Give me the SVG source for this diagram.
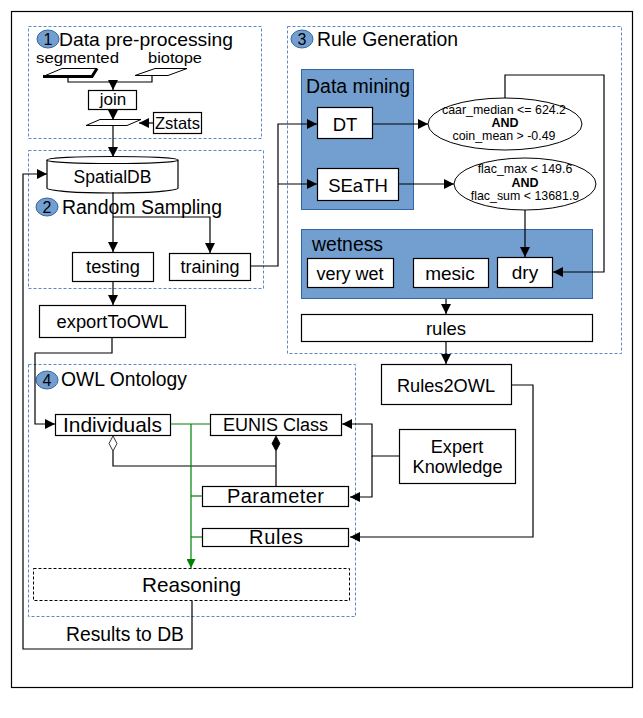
<svg xmlns="http://www.w3.org/2000/svg" width="643" height="718" viewBox="0 0 643 718">
<style>
text{font-family:"Liberation Sans",Arial,sans-serif;fill:#000}
.box{fill:#fff;stroke:#000;stroke-width:1.2}
.grp{fill:none;stroke:#5b8ac6;stroke-width:1;stroke-dasharray:3,2}
.blue{fill:#729fcf;stroke:#3465a4;stroke-width:1}
.num{fill:#729fcf;stroke:#3465a4;stroke-width:1}
.ln{fill:none;stroke:#000;stroke-width:1.2}
.gl{fill:none;stroke:#008000;stroke-width:1.2}
.c{text-anchor:middle}
</style>
<defs>
<marker id="ah" viewBox="0 0 10 10" refX="10" refY="5" markerWidth="10" markerHeight="10" markerUnits="userSpaceOnUse" orient="auto"><path d="M0,0 L10,5 L0,10 z" fill="#000"/></marker>
<marker id="ahg" viewBox="0 0 10 10" refX="10" refY="5" markerWidth="9" markerHeight="9" markerUnits="userSpaceOnUse" orient="auto"><path d="M0,0 L10,5 L0,10 z" fill="#008000"/></marker>
</defs>
<rect x="11.5" y="11.5" width="621" height="676" fill="#fff" stroke="#000" stroke-width="1.2"/>

<g id="group1">
<rect class="grp" x="28.5" y="26.5" width="233" height="112"/>
<ellipse class="num" cx="48" cy="39" rx="11" ry="9"/>
<text x="48" y="45" class="c" font-size="16">1</text>
<text x="59" y="46" font-size="19" textLength="174" lengthAdjust="spacingAndGlyphs">Data pre-processing</text>
</g>
<g id="segmented">
<text x="36" y="63" font-size="15" textLength="83" lengthAdjust="spacingAndGlyphs">segmented</text>
<path d="M62,68.5 L97,68.5 L92,76.5 L43,76.5 Z" fill="#fff" stroke="#000" stroke-width="1"/>
<path d="M43,76.5 L92,76.5 L97,68.5" fill="none" stroke="#000" stroke-width="3"/>
</g>
<g id="biotope">
<text x="148" y="63" font-size="15" textLength="54" lengthAdjust="spacingAndGlyphs">biotope</text>
<path d="M155,68.5 L187,68.5 L168,75.5 L135,75.5 Z" fill="#fff" stroke="#000" stroke-width="1"/>
</g>
<g id="join">
<rect class="box" x="88.5" y="90.5" width="48" height="19"/>
<text x="113" y="105" class="c" font-size="17">join</text>
</g>
<g id="zonal">
<path d="M100,119.5 L141,119.5 L127,125.5 L86,125.5 Z" fill="#fff" stroke="#000" stroke-width="1"/>
</g>
<g id="zstats">
<rect class="box" x="153.5" y="112.5" width="48" height="21"/>
<text x="177.5" y="128.5" class="c" font-size="16.5">Zstats</text>
</g>

<g id="group2">
<rect class="grp" x="28.5" y="150.5" width="235" height="138"/>
<ellipse class="num" cx="47" cy="207" rx="11" ry="9"/>
<text x="47" y="213" class="c" font-size="16">2</text>
<text x="62" y="214" font-size="19.5" textLength="160" lengthAdjust="spacingAndGlyphs">Random Sampling</text>
</g>
<g id="spatialdb">
<path d="M47,160 L47,188 A65.5,5 0 0 0 178,188 L178,160" fill="#fff" stroke="#000" stroke-width="1.2"/>
<ellipse cx="112.5" cy="160" rx="65.5" ry="3.5" fill="#fff" stroke="#000" stroke-width="1.2"/>
<text x="112.5" y="183" class="c" font-size="17.5">SpatialDB</text>
</g>
<g id="testing">
<rect class="box" x="72.5" y="252.5" width="81" height="29"/>
<text x="113" y="273" class="c" font-size="18.3">testing</text>
</g>
<g id="training">
<rect class="box" x="169.5" y="253.5" width="81" height="27"/>
<text x="210" y="273" class="c" font-size="18">training</text>
</g>
<g id="export">
<rect class="box" x="39.5" y="305.5" width="146" height="32"/>
<text x="112.5" y="328" class="c" font-size="18.3">exportToOWL</text>
</g>

<g id="group3">
<rect class="grp" x="287.5" y="26.5" width="334" height="327"/>
<ellipse class="num" cx="302" cy="39" rx="11" ry="9"/>
<text x="302" y="45" class="c" font-size="16">3</text>
<text x="317" y="46" font-size="19.5" textLength="141" lengthAdjust="spacingAndGlyphs">Rule Generation</text>
</g>
<g id="datamining">
<rect class="blue" x="301.5" y="69.5" width="112" height="140"/>
<text x="306" y="93" font-size="19.5" textLength="104" lengthAdjust="spacingAndGlyphs">Data mining</text>
</g>
<g id="dt">
<rect class="box" x="317.5" y="107.5" width="55" height="31"/>
<text x="345" y="131" class="c" font-size="18.5">DT</text>
</g>
<g id="seath">
<rect class="box" x="317.5" y="168.5" width="81" height="32"/>
<text x="358" y="192" class="c" font-size="18.5">SEaTH</text>
</g>
<g id="rule1">
<ellipse cx="505" cy="124" rx="77" ry="26" fill="#fff" stroke="#000" stroke-width="1"/>
<text x="504" y="114" class="c" font-size="12.4">caar_median &lt;= 624.2</text>
<text x="505" y="127" class="c" font-size="12.5" font-weight="bold" font-family="Liberation Mono,monospace">AND</text>
<text x="504" y="140" class="c" font-size="12.4">coin_mean &gt; -0.49</text>
</g>
<g id="rule2">
<ellipse cx="525" cy="184" rx="71" ry="26" fill="#fff" stroke="#000" stroke-width="1"/>
<text x="525" y="173" class="c" font-size="12.4">flac_max &lt; 149.6</text>
<text x="525" y="187" class="c" font-size="12.5" font-weight="bold" font-family="Liberation Mono,monospace">AND</text>
<text x="525" y="200" class="c" font-size="12.4">flac_sum &lt; 13681.9</text>
</g>
<g id="wetness">
<rect class="blue" x="301.5" y="229.5" width="291" height="69"/>
<text x="312" y="251" font-size="19.4" textLength="71" lengthAdjust="spacingAndGlyphs">wetness</text>
</g>
<g id="verywet">
<rect class="box" x="307.5" y="258.5" width="86" height="29"/>
<text x="350" y="279.5" class="c" font-size="18">very wet</text>
</g>
<g id="mesic">
<rect class="box" x="413.5" y="258.5" width="75" height="29"/>
<text x="450" y="279.5" class="c" font-size="19">mesic</text>
</g>
<g id="dry">
<rect class="box" x="497.5" y="257.5" width="55" height="30"/>
<text x="525" y="278.5" class="c" font-size="19">dry</text>
</g>
<g id="rules">
<rect class="box" x="301.5" y="314.5" width="291" height="27"/>
<text x="446" y="335" class="c" font-size="18.5">rules</text>
</g>
<g id="rules2owl">
<rect class="box" x="381.5" y="364.5" width="130" height="40"/>
<text x="446" y="391.5" class="c" font-size="18.2">Rules2OWL</text>
</g>
<g id="expert">
<rect class="box" x="399.5" y="429.5" width="116" height="54"/>
<text x="457" y="452.5" class="c" font-size="18.2">Expert</text>
<text x="457.5" y="472.5" class="c" font-size="18.2">Knowledge</text>
</g>

<g id="group4">
<rect class="grp" x="28.5" y="364.5" width="327" height="252"/>
<ellipse class="num" cx="47" cy="380" rx="11" ry="9"/>
<text x="47" y="386" class="c" font-size="16">4</text>
<text x="61" y="386" font-size="19.3" textLength="126" lengthAdjust="spacingAndGlyphs">OWL Ontology</text>
</g>
<g id="individuals">
<rect class="box" x="55.5" y="414.5" width="115" height="21"/>
<text x="63" y="431.5" font-size="20.8" textLength="99" lengthAdjust="spacingAndGlyphs">Individuals</text>
</g>
<g id="eunis">
<rect class="box" x="210.5" y="414.5" width="131" height="21"/>
<text x="223" y="430.5" font-size="18" textLength="105" lengthAdjust="spacingAndGlyphs">EUNIS Class</text>
</g>
<g id="parameter">
<rect class="box" x="202.5" y="486.5" width="146" height="20"/>
<text x="227" y="503" font-size="20" textLength="97" lengthAdjust="spacing">Parameter</text>
</g>
<g id="rulesowl">
<rect class="box" x="202.5" y="528.5" width="146" height="18"/>
<text x="249" y="544" font-size="20" textLength="54" lengthAdjust="spacing">Rules</text>
</g>
<g id="reasoning">
<rect x="33.5" y="568.5" width="316" height="32" fill="#fff" stroke="#000" stroke-width="1" stroke-dasharray="3,2"/>
<text x="142" y="592" font-size="20.7" textLength="99" lengthAdjust="spacingAndGlyphs">Reasoning</text>
</g>

<g id="connectors">
<path class="ln" d="M68,77 V82 H152 V76"/>
<path class="ln" d="M113,82 V90" marker-end="url(#ah)"/>
<path class="ln" d="M113,110 V120" marker-end="url(#ah)"/>
<path class="ln" d="M153,123 H139" marker-end="url(#ah)"/>
<path class="ln" d="M113,126 V157" marker-end="url(#ah)"/>
<path class="ln" d="M113,192 V252" marker-end="url(#ah)"/>
<path class="ln" d="M113,217 H210 V253" marker-end="url(#ah)"/>
<path class="ln" d="M113,282 V305" marker-end="url(#ah)"/>
<path class="ln" d="M251,266 H278 V124 H317" marker-end="url(#ah)"/>
<path class="ln" d="M278,184 H317" marker-end="url(#ah)"/>
<path class="ln" d="M373,124 H428" marker-end="url(#ah)"/>
<path class="ln" d="M399,184 H454" marker-end="url(#ah)"/>
<path class="ln" d="M525,210 V257" marker-end="url(#ah)"/>
<path class="ln" d="M505,98 V75 H604 V272 H553" marker-end="url(#ah)"/>
<path class="ln" d="M446,299 V314" marker-end="url(#ah)"/>
<path class="ln" d="M446,342 V364" marker-end="url(#ah)"/>
<path class="ln" d="M512,385 H533 V537 H350" marker-end="url(#ah)"/>
<path class="ln" d="M399,456 H372 V424 H342" marker-end="url(#ah)"/>
<path class="ln" d="M372,456 V497 H350" marker-end="url(#ah)"/>
<path class="ln" d="M112,338 V353 H35 V424 H55" marker-end="url(#ah)"/>
<path class="ln" d="M192,601 V649 H23 V174 H47" marker-end="url(#ah)"/>
<path class="ln" d="M113,451 V466 H276"/>
<path d="M113,436 L117,443.5 L113,451 L109,443.5 Z" fill="#fff" stroke="#000" stroke-width="0.8"/>
<path class="ln" d="M276,451 V486"/>
<path d="M276,436 L280,443.5 L276,451 L272,443.5 Z" fill="#000" stroke="#000" stroke-width="0.8"/>
<path class="gl" d="M171,424 H210"/>
<path class="gl" d="M191,424 V568" marker-end="url(#ahg)"/>
<path class="gl" d="M191,496 H202"/>
<path class="gl" d="M191,537 H202"/>
</g>
<text x="66" y="641" font-size="19.3" textLength="118" lengthAdjust="spacingAndGlyphs">Results to DB</text>
</svg>
